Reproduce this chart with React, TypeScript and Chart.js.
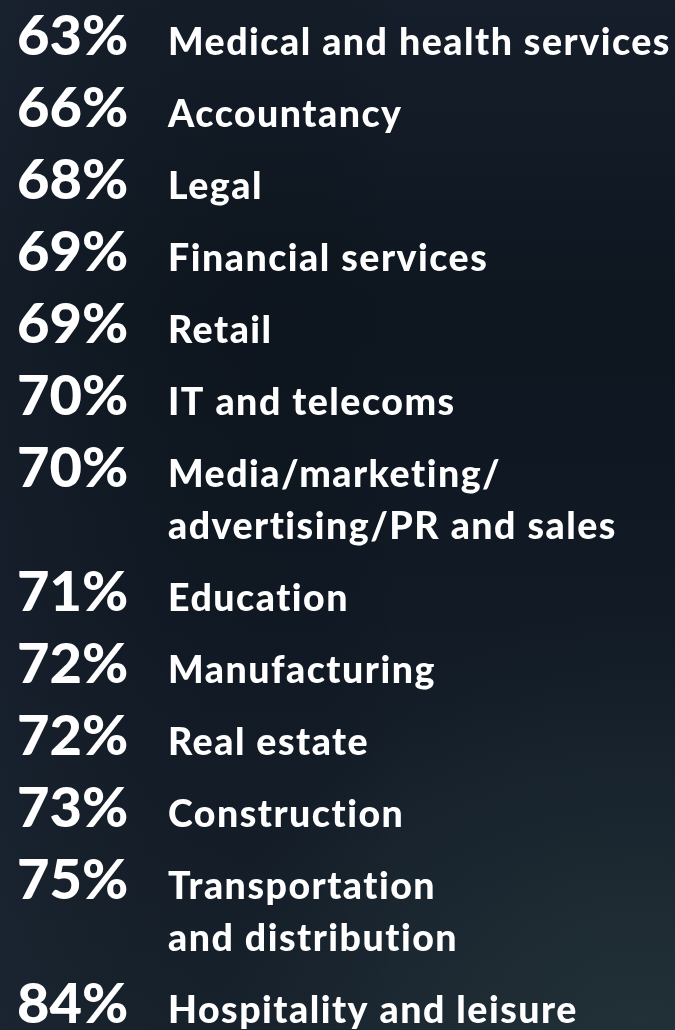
import React, { useEffect, useRef } from "react";
import { Chart, registerables } from "chart.js";

Chart.register(...registerables);

const categories: string[][] = [
  ["Medical and health services"],
  ["Accountancy"],
  ["Legal"],
  ["Financial services"],
  ["Retail"],
  ["IT and telecoms"],
  ["Media/marketing/", "advertising/PR and sales"],
  ["Education"],
  ["Manufacturing"],
  ["Real estate"],
  ["Construction"],
  ["Transportation", "and distribution"],
  ["Hospitality and leisure"],
];

const values: number[] = [63, 66, 68, 69, 69, 70, 70, 71, 72, 72, 73, 75, 84];

const EXTRA_LINE = 0.72; // extra row units per additional label line

function rowPositions(): number[] {
  const out: number[] = [];
  let pos = 0;
  categories.forEach((c) => {
    out.push(pos);
    pos += 1 + (c.length - 1) * EXTRA_LINE;
  });
  return out;
}

const W = 675;
const H = 1030;

const bgPlugin = {
  id: "bg",
  beforeDraw(chart: any) {
    const ctx = chart.ctx as CanvasRenderingContext2D;
    ctx.save();
    const g = ctx.createLinearGradient(0, 0, 0, H);
    g.addColorStop(0, "#151e2a");
    g.addColorStop(0.3, "#0e1620");
    g.addColorStop(0.6, "#111a25");
    g.addColorStop(1, "#19242f");
    ctx.fillStyle = g;
    ctx.fillRect(0, 0, W, H);
    const g2 = ctx.createLinearGradient(0, 0, W, 0);
    g2.addColorStop(0, "rgba(30,40,54,0.35)");
    g2.addColorStop(0.6, "rgba(0,0,0,0)");
    ctx.fillStyle = g2;
    ctx.fillRect(0, 0, W, H);
    const g3 = ctx.createRadialGradient(W * 0.95, H, 10, W * 0.95, H, 420);
    g3.addColorStop(0, "rgba(42,60,62,0.5)");
    g3.addColorStop(1, "rgba(42,60,62,0)");
    ctx.fillStyle = g3;
    ctx.fillRect(0, 0, W, H);
    ctx.restore();
  },
};

const textPlugin = {
  id: "rowText",
  afterDatasetsDraw(chart: any) {
    const ctx = chart.ctx as any;
    const meta = chart.getDatasetMeta(0);
    const yScale = chart.scales.y;
    const lineGap = EXTRA_LINE * Math.abs(yScale.getPixelForValue(1) - yScale.getPixelForValue(0));
    ctx.save();
    ctx.fillStyle = "#ffffff";
    ctx.textBaseline = "alphabetic";
    ctx.textAlign = "left";
    meta.data.forEach((el: any, i: number) => {
      const x = el.x;
      const y = el.y;
      ctx.font = "900 56px Lato";
      ctx.letterSpacing = "0px";
      ctx.fillText(values[i] + "%", x, y);
      ctx.font = "900 37.5px Lato";
      ctx.letterSpacing = "1.5px";
      categories[i].forEach((line: string, k: number) => {
        ctx.fillText(line, x + 151, y + k * lineGap);
      });
    });
    ctx.restore();
  },
};

export default function App() {
  const ref = useRef<HTMLCanvasElement | null>(null);
  useEffect(() => {
    if (!ref.current) return;
    const positions = rowPositions();
    const last = positions[positions.length - 1];
    const chart = new Chart(ref.current, {
      type: "scatter",
      data: {
        datasets: [
          {
            data: values.map((v, i) => ({ x: 0, y: positions[i] })),
            pointRadius: 0,
            pointHoverRadius: 0,
          },
        ],
      },
      options: {
        responsive: false,
        animation: false,
        events: [],
        layout: { padding: { left: 17, top: 55, bottom: 7, right: 0 } },
        plugins: { legend: { display: false }, tooltip: { enabled: false } },
        scales: {
          x: { display: false, min: 0, max: 1 },
          y: { display: false, reverse: true, min: 0, max: last },
        },
      },
      plugins: [bgPlugin, textPlugin],
    });
    return () => chart.destroy();
  }, []);
  return (
    <div style={{ position: "fixed", left: 0, top: 0, width: W, height: H }}>
      <canvas ref={ref} width={W} height={H} style={{ display: "block" }} />
    </div>
  );
}
